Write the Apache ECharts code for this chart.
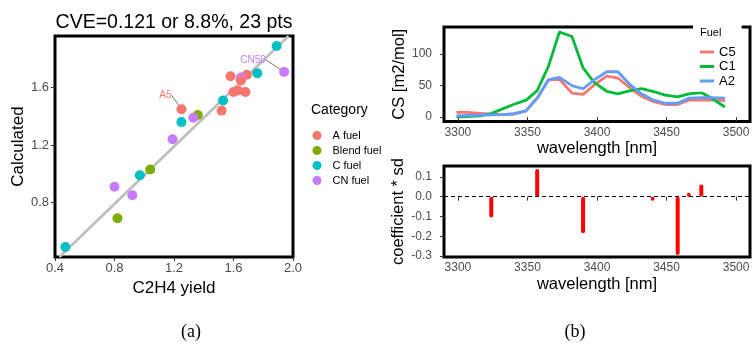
<!DOCTYPE html>
<html>
<head>
<meta charset="utf-8">
<script src="https://cdn.jsdelivr.net/npm/echarts@6/dist/echarts.min.js"></script>
<style>
  html, body { margin: 0; padding: 0; background: #fff; }
  #chart { width: 753px; height: 349px; }
</style>
</head>
<body>
<div id="chart"></div>
<script>
// (a) C2H4 yield vs calculated, by fuel category
var aFuel = [[1.25, 1.45], [1.52, 1.44], [1.58, 1.68], [1.69, 1.69], [1.60, 1.57], [1.63, 1.58], [1.68, 1.57]];
var aFuelTop = [[1.65, 1.65]];
var blendFuel = [[0.82, 0.69], [1.04, 1.03], [1.36, 1.41]];
var cFuel = [[0.47, 0.49], [0.97, 0.99], [1.25, 1.36], [1.53, 1.51], [1.76, 1.70], [1.89, 1.89]];
var cnFuel = [[0.80, 0.91], [0.92, 0.85], [1.19, 1.24], [1.33, 1.39], [1.65, 1.67], [1.94, 1.71]];
var fitLine = [[0.43, 0.42], [1.97, 1.96]];
var pointNames = { 'A fuel': [0, 'A5'], 'CN fuel': [5, 'CN50'] };

// (b) top: cross sections
var wavelengths = [3299, 3307, 3316, 3324, 3332, 3340, 3349, 3357, 3365, 3373, 3382, 3390, 3398, 3407, 3415, 3424, 3432, 3440, 3449, 3458, 3466, 3475, 3483, 3492];
var csC5 = [7.5, 7.5, 6, 4.5, 4, 4.5, 10, 30, 59, 60, 38, 36, 51, 65, 62, 46, 33, 25, 20, 20, 27, 27.5, 27, 26];
var csC1 = [0.3, 0.8, 2, 5.5, 13, 20, 27, 42, 80, 135, 128, 78, 55, 41, 37, 42, 45, 41, 35, 32, 37, 39, 29, 16];
var csA2 = [2, 2.5, 3, 3.5, 4, 5.5, 10, 30, 59, 63, 50, 45, 59, 72, 72, 51, 37, 27.5, 22, 22, 30, 31, 31, 30];

// (b) bottom: coefficients
var coefWl = [3324, 3357, 3390, 3440, 3458, 3466, 3475];
var coefVal = [-0.105, 0.14, -0.185, -0.005, -0.295, 0.01, 0.062];

var xTicksA = [0.4, 0.8, 1.2, 1.6, 2.0];
var yTicksA = [0.8, 1.2, 1.6];
var wlTicks = [3300, 3350, 3400, 3450, 3500];
var csTicks = [0, 50, 100];
var coefTicks = [-0.3, -0.2, -0.1, 0, 0.1];

var FONT = 'Liberation Sans, Arial, sans-serif';
var catColors = { 'A fuel': '#F8766D', 'Blend fuel': '#7CAE00', 'C fuel': '#00BFC4', 'CN fuel': '#C77CFF' };
var fuelColors = ['#F8766D', '#00BA38', '#619CFF'];

function zip(xs, ys) {
    var out = [];
    for (var i = 0; i < xs.length; i++) out.push([xs[i], ys[i]]);
    return out;
}

function axisBase(ticks, fmt, size, margin) {
    return {
        axisLine: { show: false },
        axisTick: { show: true, length: 4, customValues: ticks, lineStyle: { color: '#333', width: 1 } },
        axisLabel: { customValues: ticks, color: '#4D4D4D', fontSize: size, margin: margin, formatter: fmt },
        splitLine: { show: false },
        nameLocation: 'middle',
        nameTextStyle: { color: '#000', fontSize: 16.5 }
    };
}

function scatterSeries(name, data, z) {
    var col = catColors[name];
    var pts = data.map(function (d, i) {
        var tag = pointNames[name];
        if (tag && tag[0] === i && z === 3) {
            return {
                value: d,
                label: { show: true, formatter: tag[1] },
                labelLine: { show: true, lineStyle: { color: '#555', width: 0.8 } }
            };
        }
        return { value: d };
    });
    return {
        name: name, type: 'scatter', xAxisIndex: 0, yAxisIndex: 0,
        symbolSize: 10, data: pts, z: z,
        itemStyle: { color: col, opacity: 1 },
        label: { show: false, position: 'inside', fontSize: 10, color: col },
        labelLayout: function (p) {
            return name === 'A fuel' ? { dx: -16, dy: -14 } : { dx: -31, dy: -12 };
        }
    };
}

var fmt1 = function (v) { return (+v).toFixed(1); };
var fmt0 = function (v) { return String(v); };

var chart = echarts.init(document.getElementById('chart'));
var option = {
    animation: false,
    textStyle: { fontFamily: FONT },
    grid: [
        { left: 55, top: 36, width: 238, height: 221, show: true, borderColor: '#000', borderWidth: 3, backgroundColor: 'transparent' },
        { left: 444, top: 27, width: 306, height: 94.5, show: true, borderColor: '#000', borderWidth: 3, backgroundColor: 'transparent' },
        { left: 444, top: 166, width: 306, height: 91, show: true, borderColor: '#000', borderWidth: 3, backgroundColor: 'transparent' }
    ],
    xAxis: [
        Object.assign(axisBase(xTicksA, fmt1, 13, 5), { gridIndex: 0, type: 'value', min: 0.4, max: 2.0, name: 'C2H4 yield', nameGap: 19.5, nameTextStyle: { color: '#000', fontSize: 17 } }),
        Object.assign(axisBase(wlTicks, fmt0, 12, 5), { gridIndex: 1, type: 'value', min: 3290, max: 3510, name: 'wavelength [nm]', nameGap: 18 }),
        Object.assign(axisBase(wlTicks, fmt0, 12, 5), { gridIndex: 2, type: 'value', min: 3290, max: 3510, name: 'wavelength [nm]', nameGap: 19 })
    ],
    yAxis: [
        Object.assign(axisBase(yTicksA, fmt1, 13, 6), { gridIndex: 0, type: 'value', min: 0.42, max: 1.96, name: 'Calculated', nameGap: 28, nameTextStyle: { color: '#000', fontSize: 17 } }),
        Object.assign(axisBase(csTicks, fmt0, 12, 12), { gridIndex: 1, type: 'value', min: -7, max: 143, name: 'CS [m2/mol]', nameGap: 34 }),
        Object.assign(axisBase(coefTicks, fmt1, 12, 12), { gridIndex: 2, type: 'value', min: -0.305, max: 0.155, name: 'coefficient * sd', nameGap: 36 })
    ],
    legend: [
        {
            data: ['A fuel', 'Blend fuel', 'C fuel', 'CN fuel'],
            orient: 'vertical', left: 312.5, top: 130, padding: 0,
            icon: 'circle', itemWidth: 9, itemHeight: 9, itemGap: 4,
            selectedMode: false,
            textStyle: { fontSize: 11, color: '#000', padding: [0, 0, 0, 6] }
        },
        {
            data: ['C5', 'C1', 'A2'],
            orient: 'vertical', left: 693, top: 22, padding: [23.5, 6, 4, 7],
            backgroundColor: '#fff',
            icon: 'rect', itemWidth: 14, itemHeight: 3, itemGap: 1.5,
            selectedMode: false,
            textStyle: { fontSize: 13, lineHeight: 13, color: '#000' }
        }
    ],
    graphic: [
        { type: 'text', x: 174, y: 23, z: 100, style: { text: 'CVE=0.121 or 8.8%, 23 pts', font: '19.5px ' + FONT, fill: '#000', textAlign: 'center', textVerticalAlign: 'middle' } },
        { type: 'text', x: 311, y: 110, z: 100, style: { text: 'Category', font: '14px ' + FONT, fill: '#000', textAlign: 'left', textVerticalAlign: 'middle' } },
        { type: 'text', x: 700, y: 33, z: 100, style: { text: 'Fuel', font: '11px ' + FONT, fill: '#000', textAlign: 'left', textVerticalAlign: 'middle' } },
        { type: 'text', x: 191, y: 332, z: 100, style: { text: '(a)', font: '18px Liberation Serif, serif', fill: '#000', textAlign: 'center', textVerticalAlign: 'middle' } },
        { type: 'text', x: 575, y: 332, z: 100, style: { text: '(b)', font: '18px Liberation Serif, serif', fill: '#000', textAlign: 'center', textVerticalAlign: 'middle' } }
    ],
    series: [
        {
            type: 'line', xAxisIndex: 0, yAxisIndex: 0, data: fitLine,
            symbol: 'none', silent: true, z: 1,
            lineStyle: { color: '#BEBEBE', width: 2.7 }
        },
        scatterSeries('A fuel', aFuel, 3),
        scatterSeries('Blend fuel', blendFuel, 3),
        scatterSeries('C fuel', cFuel, 3),
        scatterSeries('CN fuel', cnFuel, 3),
        // this red point sits on top of the purple one next to it
        scatterSeries('A fuel', aFuelTop, 4),
        { name: 'C5', type: 'line', xAxisIndex: 1, yAxisIndex: 1, data: zip(wavelengths, csC5), symbol: 'none', lineStyle: { width: 2.8, color: fuelColors[0] }, itemStyle: { color: fuelColors[0] } },
        { name: 'C1', type: 'line', xAxisIndex: 1, yAxisIndex: 1, data: zip(wavelengths, csC1), symbol: 'none', lineStyle: { width: 2.8, color: fuelColors[1] }, itemStyle: { color: fuelColors[1] } },
        { name: 'A2', type: 'line', xAxisIndex: 1, yAxisIndex: 1, data: zip(wavelengths, csA2), symbol: 'none', lineStyle: { width: 2.8, color: fuelColors[2] }, itemStyle: { color: fuelColors[2] } },
        {
            type: 'bar', xAxisIndex: 2, yAxisIndex: 2, data: zip(coefWl, coefVal),
            barWidth: 4, barMinHeight: 4, itemStyle: { color: '#FF0000', borderRadius: 2 },
            markLine: {
                silent: true, symbol: 'none', label: { show: false },
                lineStyle: { color: '#000', type: [4, 3], width: 1 },
                data: [{ yAxis: 0 }]
            }
        }
    ]
};
chart.setOption(option);
</script>
</body>
</html>
